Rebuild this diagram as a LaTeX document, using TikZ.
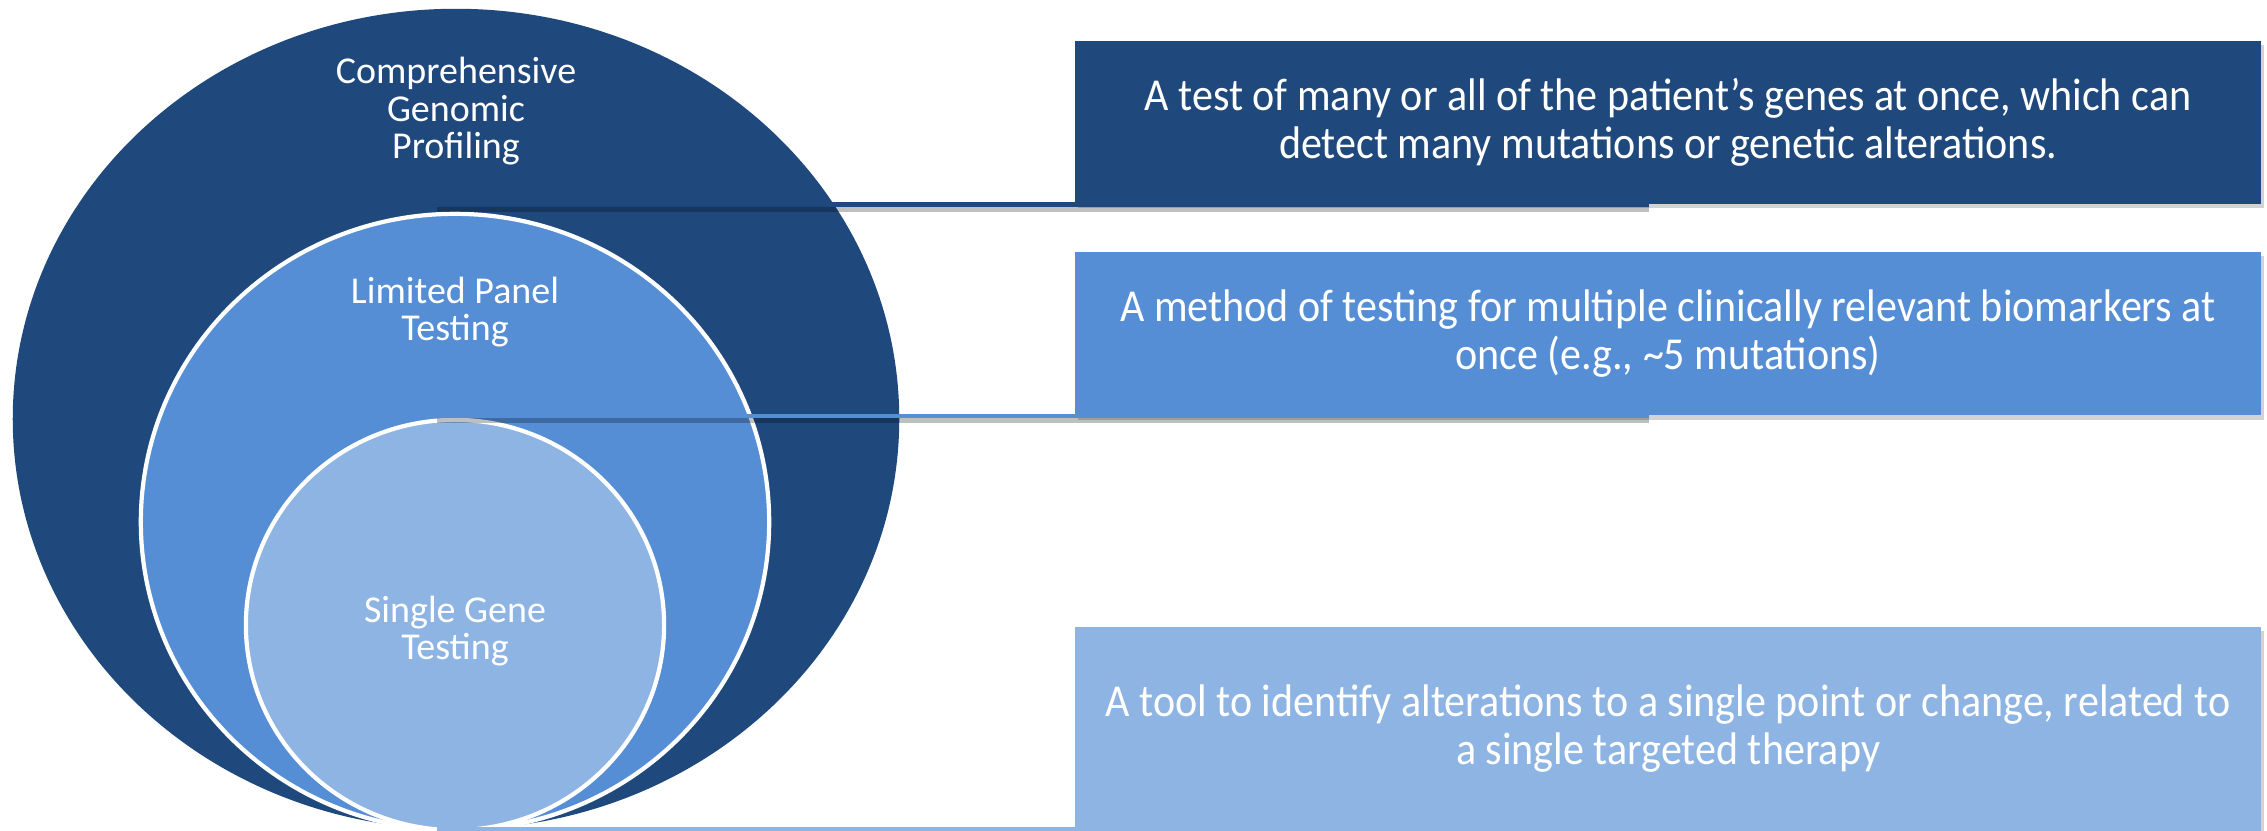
\documentclass[tikz,border=0pt]{standalone}
\usepackage{fontspec}
\setmainfont{Carlito}
\newfontfamily\boxfont[FakeStretch=0.92]{Carlito}
\usetikzlibrary{positioning,shapes.geometric,shadows}
\definecolor{cgpblue}{HTML}{1F497D}
\definecolor{lptblue}{HTML}{558ED5}
\definecolor{sgtblue}{HTML}{8EB4E3}

\begin{document}
\begin{tikzpicture}[x=0.01cm,y=-0.01cm]
\tikzset{ring/.style={ellipse,fill=#1,inner sep=0pt}}
\tikzset{ringlabel/.style={text=white,align=center,font=\fontsize{10.8}{10.6}\selectfont}}
\tikzset{descbox/.style={fill=#1,text=white,align=center,minimum width=11.86cm,minimum height=1.63cm,inner sep=0pt,font=\boxfont\fontsize{13}{13.6}\selectfont,drop shadow={shadow xshift=0.8pt,shadow yshift=-1.2pt,opacity=.35}}}
\tikzset{link/.style={draw=#1,line width=1.4pt,preaction={draw=black,opacity=.25,line width=1.4pt,transform canvas={yshift=-1.4pt}}}}
\useasboundingbox (0,0) rectangle (2267,831);
% nested rings
\node[ring=cgpblue,minimum width=8.86cm,minimum height=8.2cm] (cgp) at (456,419) {};
\node[ring=lptblue,draw=white,line width=1.2pt,minimum width=6.28cm,minimum height=6.16cm] (lpt) at (455,522) {};
\node[ring=sgtblue,draw=white,line width=1.2pt,minimum width=4.18cm,minimum height=4.1cm] (sgt) at (455,625) {};
\node[ringlabel] (cgp-lbl) at ([yshift=-1.03cm]cgp.north) {Comprehensive\\Genomic\\Profiling};
\node[ringlabel] (lpt-lbl) at ([yshift=-1cm]lpt.north) {Limited Panel\\Testing};
\node[ringlabel] (sgt-lbl) at ([yshift=-0.06cm]sgt.center) {Single Gene\\Testing};
% descriptions
\node[descbox=cgpblue,anchor=north west] (cgp-box) at (1074,40) {A test of many or all of the patient’s genes at once, which can\\detect many mutations or genetic alterations.};
\node[descbox=lptblue,below=0.47cm of cgp-box] (lpt-box) {A method of testing for multiple clinically relevant biomarkers at\\once (e.g., \textasciitilde5 mutations)};
\node[descbox=sgtblue,minimum height=2.04cm,below=2.1cm of lpt-box] (sgt-box) {A tool to identify alterations to a single point or change, related to\\a single targeted therapy};
\draw[link=cgpblue] ([xshift=-6.37cm]cgp-box.south west) -- ([xshift=5.75cm]cgp-box.south west);
\draw[link=lptblue] ([xshift=-6.37cm]lpt-box.south west) -- ([xshift=5.75cm]lpt-box.south west);
\draw[link=sgtblue] ([xshift=-6.37cm,yshift=0.02cm]sgt-box.south west) -- ([xshift=5.75cm,yshift=0.02cm]sgt-box.south west);
\end{tikzpicture}
\end{document}
